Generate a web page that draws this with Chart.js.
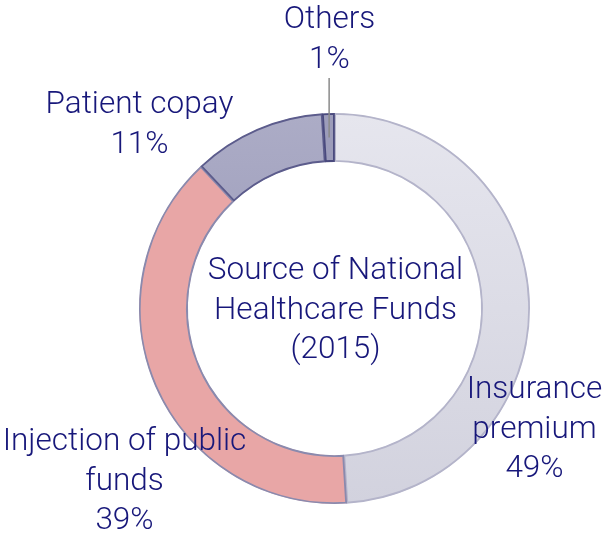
<!DOCTYPE html>
<html><head><meta charset="utf-8">
<script src="https://cdn.jsdelivr.net/npm/chart.js@4/dist/chart.umd.min.js"></script>
<style>html,body{margin:0;padding:0;background:#fff}#wrap{width:604px;height:535px;position:relative}</style>
</head><body><div id="wrap"><canvas id="c" width="604" height="535"></canvas></div>
<script>
const categories = ["Insurance premium", "Injection of public funds", "Patient copay", "Others"];
const shares = [49, 39, 11, 1];
const labelLines = [["Insurance", "premium", "49%"], ["Injection of public", "funds", "39%"], ["Patient copay", "11%"], ["Others", "1%"]];
const centerTitle = ["Source of National", "Healthcare Funds", "(2015)"];

const TEXT = "#17177a";
const FONT = "300 31.5px Roboto, 'Liberation Sans', sans-serif";
const borders = ["#b4b4ca", "#8a8aae", "#5c5c8c", "#4a4a7e"];
const fillStops = [["#e6e6ee", "#d2d2de"], ["#e8a6a6", "#e8a6a6"], ["#acacc6", "#8e8eb0"], ["#9c9cba", "#9c9cba"]];

function fill(c) {
  const ch = c.chart, a = ch.chartArea;
  const s = fillStops[c.dataIndex % fillStops.length];
  if (!a || !isFinite(a.top)) return s[0];
  const g = ch.ctx.createLinearGradient(0, a.top, 0, a.bottom);
  g.addColorStop(0, s[0]); g.addColorStop(1, s[1]);
  return g;
}

const labelPlugin = {
  id: "labels",
  afterDraw(chart) {
    const ctx = chart.ctx;
    const arcs = chart.getDatasetMeta(0).data;
    const cx = arcs[0].x, cy = arcs[0].y, R = arcs[0].outerRadius;
    ctx.save();
    ctx.font = FONT; ctx.fillStyle = TEXT; ctx.textAlign = "center"; ctx.textBaseline = "middle";
    const lh = 39.3;
    centerTitle.forEach((t, i) => ctx.fillText(t, cx + 1, cy - 37 + i * lh));
    const anchors = [
      [cx + 200, cy + 82],
      [cx - 210, cy + 134],
      [cx - 195, cy - 203],
      [cx - 5, cy - 288]
    ];
    labelLines.forEach((lines, k) => {
      lines.forEach((t, i) => ctx.fillText(t, anchors[k][0], anchors[k][1] + i * lh));
    });
    const o = arcs[3];
    const mid = (o.startAngle + o.endAngle) / 2;
    const r1 = (o.innerRadius + o.outerRadius) / 2;
    const x = cx + Math.cos(mid) * r1;
    ctx.strokeStyle = "#8a8a8a"; ctx.lineWidth = 1.5;
    ctx.beginPath();
    ctx.moveTo(x, cy + Math.sin(mid) * r1);
    ctx.lineTo(x, cy - R - 35);
    ctx.stroke();
    ctx.restore();
  }
};

new Chart(document.getElementById("c"), {
  type: "doughnut",
  data: {
    labels: categories,
    datasets: [{
      data: shares,
      backgroundColor: fill,
      borderColor: borders,
      borderWidth: 1.5,
      hoverOffset: 0,
      borderAlign: "inner"
    }]
  },
  options: {
    responsive: false,
    animation: false,
    cutout: "75%",
    layout: { padding: { top: 113, bottom: 31, left: 139, right: 74 } },
    plugins: { legend: { display: false }, tooltip: { enabled: false } }
  },
  plugins: [labelPlugin]
});
</script></body></html>
